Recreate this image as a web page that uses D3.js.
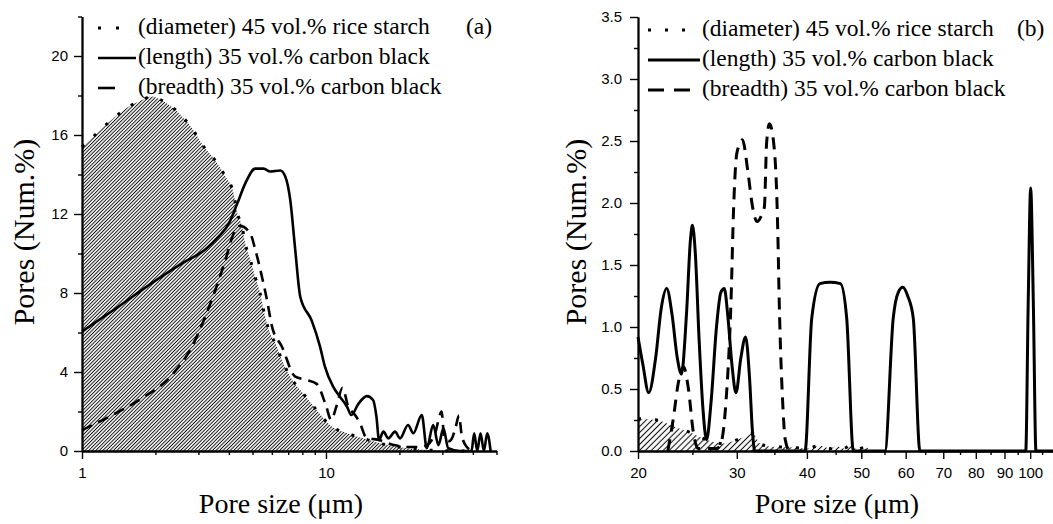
<!DOCTYPE html>
<html>
<head>
<meta charset="utf-8">
<script src="https://cdn.jsdelivr.net/npm/d3@7/dist/d3.min.js"></script>
</head>
<body style="margin:0">
<svg id="chart" width="1053" height="524"></svg>
<script>
// ---- Panel (a): pore size 1–50 µm, [size, Num.%] ----
const aDiameter = [[1,15.4],[1.13,16.0],[1.33,16.8],[1.54,17.4],[1.78,17.8],[1.93,17.95],[2.09,17.8],[2.45,17.2],[2.8,16.4],[3.16,15.4],[3.52,14.7],[3.87,13.9],[4.18,13.05],[4.32,12.1],[4.53,11.36],[4.67,10.5],[4.9,9.67],[5.13,8.8],[5.37,8.0],[5.55,7.14],[5.83,6.13],[6.2,5.45],[6.6,4.6],[7.14,3.76],[8.08,2.9],[9.16,2.07],[10.4,1.3],[12.2,0.9],[14.2,0.64],[16.6,0.39],[19.5,0.22],[22.8,0.1],[25.9,0.05],[30,0.02],[38,0]];
const aLength = [[1,6.05],[1.37,7.2],[1.88,8.4],[2.57,9.5],[3.2,10.2],[3.63,10.85],[3.99,11.5],[4.32,12.5],[4.67,13.55],[5.13,14.3],[5.55,14.3],[5.91,14.15],[6.5,14.2],[6.81,13.9],[7.14,12.7],[7.48,10.2],[7.85,7.8],[8.74,6.6],[9.45,5.3],[9.9,4.27],[10.7,3.26],[11.4,2.75],[12.2,2.24],[12.7,1.82],[13.6,2.4],[14.7,2.78],[15.6,2.58],[16.1,1.74],[16.5,0.56],[17.2,0.98],[18.0,0.64],[19.2,0.98],[20.1,0.64],[21.7,1.32],[22.8,0.9],[24.7,1.82],[25.9,0.14],[27.5,1.32],[28.9,0.3],[30.3,1.15],[31.7,0.14],[35.4,0],[39.5,0],[40.5,0.9],[41.7,0],[43.0,0.9],[44.4,0],[45.8,0.9],[47.3,0]];
const aBreadth = [[1,1.06],[1.33,1.82],[1.76,2.67],[2.3,3.76],[2.82,5.28],[3.2,6.8],[3.52,8.15],[3.87,9.67],[4.18,11.0],[4.45,11.4],[4.9,11.0],[5.13,10.2],[5.47,8.8],[5.73,7.65],[6.01,6.3],[6.6,5.28],[7.48,3.76],[8.3,3.6],[9.16,3.4],[10.0,2.3],[10.5,1.57],[11.0,2.2],[11.7,3.2],[12.3,2.3],[13.2,1.8],[13.8,1.4],[14.6,0.7],[16.6,0.55],[19,0.3],[22,0.2],[24,0.2],[26,0.3],[28,0.9],[29.8,2.0],[30.5,0.7],[32,0.5],[33,0.7],[34,1.2],[35.1,1.8],[36,0.8],[37.8,0.2],[40,0]];
const aXMajor = [1, 10];
const aXMinor = [2,3,4,5,6,7,8,9,20,30,40,50];
const aYMajor = [0,4,8,12,16,20];
const aYMinor = [2,6,10,14,18,22];

// ---- Panel (b): pore size 20–110 µm ----
const bDiameter = [[20,0.26],[21.6,0.25],[23.1,0.2],[24.9,0.145],[26.5,0.09],[28.4,0.06],[30.4,0.1],[32.1,0.14],[33.0,0.06],[34.6,0.035],[37.3,0.03],[40,0.02],[42.2,0.045],[44,0.02],[45.2,0.04],[46.5,0.02],[47.8,0.045],[49.2,0.015],[50.8,0.03],[52.2,0]];
const bLength = [[20,0.92],[20.4,0.7],[20.9,0.47],[21.5,0.75],[22.0,1.15],[22.5,1.31],[23.0,1.1],[23.5,0.75],[23.9,0.62],[24.4,1.1],[24.8,1.7],[25.0,1.82],[25.3,1.6],[25.7,0.9],[26.1,0.35],[26.5,0.09],[27.0,0.4],[27.6,1.0],[28.1,1.28],[28.5,1.31],[28.9,1.1],[29.4,0.7],[29.9,0.47],[30.5,0.75],[31.1,0.92],[31.6,0.6],[32.0,0.15],[32.3,0],[39.7,0],[40.8,1.07],[42.2,1.35],[44,1.36],[45.9,1.35],[47.1,1.07],[48.4,0],[55.1,0],[57.0,1.07],[58.2,1.28],[59.3,1.32],[60.5,1.25],[61.9,1.07],[63.6,0],[98.2,0],[99.2,1.2],[100.2,2.12],[101.3,1.2],[102.4,0],[110,0]];
const bBreadth = [[22.6,0],[23.1,0.25],[23.6,0.55],[24.1,0.68],[24.6,0.5],[25.1,0.15],[25.6,0.02],[27.6,0.02],[28.1,0.06],[28.7,0.4],[29.3,1.22],[29.6,1.94],[30.0,2.4],[30.7,2.51],[31.4,2.25],[32.0,1.97],[32.6,1.85],[33.2,1.9],[33.6,1.97],[33.9,2.48],[34.3,2.64],[35.0,2.43],[35.5,1.76],[35.7,1.22],[36.2,0.41],[36.6,0.09],[37.2,0]];
const bXMajor = [20,30,40,50,60,70,80,90,100];
const bXMinor = [25,35,45,55,65,75,85,95,105];
const bYMajor = [0,0.5,1.0,1.5,2.0,2.5,3.0,3.5];
const bYMinor = [0.25,0.75,1.25,1.75,2.25,2.75,3.25];

const legendLabels = ["(diameter) 45 vol.% rice starch", "(length) 35 vol.% carbon black", "(breadth) 35 vol.% carbon black"];
const xTitle = "Pore size (\u03bcm)";
const yTitle = "Pores (Num.%)";

const svg = d3.select("#chart");
const defs = svg.append("defs");
const textLayer = svg.append("g");          // serif captions
const markLayer = svg.insert("g", "g");     // curves and hatch sit beneath everything

const panels = [
  {
    id: "a", tag: "(a)", tagX: 466,
    xDomain: [1, 50], xRange: [82, 496.5],
    yDomain: [0, 22], yTop: 16.5,
    diameter: aDiameter, length: aLength, breadth: aBreadth,
    xMajor: aXMajor, xMinor: aXMinor, yMajor: aYMajor, yMinor: aYMinor,
    yFormat: d3.format("d"), yPad: 6,
    hatch: 2.5, hatchW: 1,
    lineW: 2.6, dotW: 3, dotDash: "3 13", dash: "11 7",
    xTitleX: 281, yTitleX: 34,
    leg: { x0: 98, y0: 28, textX: 138, dotEnd: 121, dotDash: "3 15", lineEnd: 136, dashEnd: 115, dashDash: "17 30" }
  },
  {
    id: "b", tag: "(b)", tagX: 1017,
    xDomain: [20, 110], xRange: [638, 1053.4],
    yDomain: [0, 3.5], yTop: 17,
    diameter: bDiameter, length: bLength, breadth: bBreadth,
    xMajor: bXMajor, xMinor: bXMinor, yMajor: bYMajor, yMinor: bYMinor,
    yFormat: d3.format(".1f"), yPad: 8,
    hatch: 4.2, hatchW: 1.1,
    lineW: 3, dotW: 3, dotDash: "3 14", dash: "12 8",
    xTitleX: 837, yTitleX: 586,
    leg: { x0: 648, y0: 30, textX: 702, dotEnd: 687, dotDash: "3 14", lineEnd: 700, dashEnd: 692, dashDash: "16 10" }
  }
];

// captions: axis titles, legend entries, panel tags
panels.forEach(p => {
  textLayer.append("text")
    .attr("font-family", "Liberation Serif").attr("font-size", 28)
    .attr("x", p.xTitleX).attr("y", 513).attr("text-anchor", "middle")
    .text(xTitle);
  textLayer.append("text")
    .attr("font-family", "Liberation Serif").attr("font-size", 30)
    .attr("transform", `translate(${p.yTitleX},232) rotate(-90)`).attr("text-anchor", "middle")
    .text(yTitle);
  legendLabels.forEach((lab, i) => {
    textLayer.append("text")
      .attr("font-family", "Liberation Serif").attr("font-size", 23.5)
      .attr("x", p.leg.textX).attr("y", p.leg.y0 + i * 30 + 6)
      .text(lab);
  });
  textLayer.append("text")
    .attr("font-family", "Liberation Serif").attr("font-size", 23.5)
    .attr("x", p.tagX).attr("y", p.leg.y0 + 6)
    .text(p.tag);
});

panels.forEach(p => {
  const x = d3.scaleLog().domain(p.xDomain).range(p.xRange);
  const y = d3.scaleLinear().domain(p.yDomain).range([451, p.yTop]);

  // diagonal hatch under the diameter distribution
  const pat = defs.append("pattern")
    .attr("id", p.id + "-hatch")
    .attr("patternUnits", "userSpaceOnUse")
    .attr("width", p.hatch).attr("height", p.hatch)
    .attr("patternTransform", "rotate(45)");
  pat.append("line")
    .attr("x1", p.hatch / 2).attr("y1", 0)
    .attr("x2", p.hatch / 2).attr("y2", p.hatch)
    .attr("stroke", "#111").attr("stroke-width", p.hatchW);

  const area = d3.area()
    .x(d => x(d[0])).y0(y(0)).y1(d => y(d[1]))
    .curve(d3.curveMonotoneX);
  const line = d3.line()
    .x(d => x(d[0])).y(d => y(d[1]))
    .curve(d3.curveMonotoneX);

  markLayer.append("path").datum(p.diameter)
    .attr("d", area).attr("fill", `url(#${p.id}-hatch)`);
  markLayer.append("path").datum(p.diameter).attr("d", line)
    .attr("fill", "none").attr("stroke", "#000")
    .attr("stroke-width", p.dotW).attr("stroke-dasharray", p.dotDash);
  markLayer.append("path").datum(p.breadth).attr("d", line)
    .attr("fill", "none").attr("stroke", "#000")
    .attr("stroke-width", p.lineW).attr("stroke-dasharray", p.dash);
  markLayer.append("path").datum(p.length).attr("d", line)
    .attr("fill", "none").attr("stroke", "#000")
    .attr("stroke-width", p.lineW).attr("stroke-linejoin", "round");

  // legend samples
  const samples = [
    { x2: p.leg.dotEnd, w: p.dotW, dash: p.leg.dotDash },
    { x2: p.leg.lineEnd, w: p.lineW, dash: null },
    { x2: p.leg.dashEnd, w: p.lineW, dash: p.leg.dashDash }
  ];
  samples.forEach((s, i) => {
    const yy = p.leg.y0 + i * 30;
    const ln = markLayer.append("line")
      .attr("x1", p.leg.x0).attr("x2", s.x2)
      .attr("y1", yy).attr("y2", yy)
      .attr("stroke", "#000").attr("stroke-width", s.w);
    if (s.dash) ln.attr("stroke-dasharray", s.dash);
  });

  // axes with sans-serif tick labels
  const styleAxis = sel => {
    sel.attr("font-size", 15).attr("font-family", "Liberation Sans");
    sel.select(".domain").attr("stroke", "#000").attr("stroke-width", 1.8);
    sel.selectAll(".tick line").attr("stroke", "#000").attr("stroke-width", 1.4);
    sel.selectAll("text").attr("fill", "#000");
  };
  svg.append("g").attr("transform", `translate(0,${y(0)})`)
    .call(d3.axisBottom(x).tickValues(p.xMinor).tickFormat("").tickSize(4).tickSizeOuter(0))
    .call(styleAxis);
  svg.append("g").attr("transform", `translate(0,${y(0)})`)
    .call(d3.axisBottom(x).tickValues(p.xMajor).tickFormat(d3.format("d")).tickSize(8).tickPadding(8).tickSizeOuter(0))
    .call(styleAxis);
  svg.append("g").attr("transform", `translate(${p.xRange[0]},0)`)
    .call(d3.axisLeft(y).tickValues(p.yMinor).tickFormat("").tickSize(4).tickSizeOuter(0))
    .call(styleAxis);
  svg.append("g").attr("transform", `translate(${p.xRange[0]},0)`)
    .call(d3.axisLeft(y).tickValues(p.yMajor).tickFormat(p.yFormat).tickSize(8).tickPadding(p.yPad).tickSizeOuter(0))
    .call(styleAxis);
});
</script>
</body>
</html>
